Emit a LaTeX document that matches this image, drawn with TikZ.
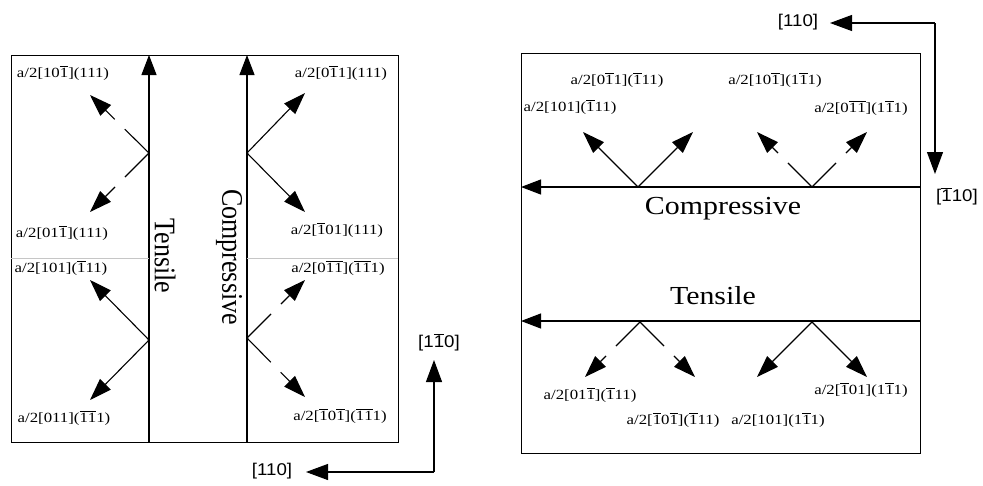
\documentclass[tikz,border=0pt]{standalone}
\usepackage{fontspec}
\setmainfont{Liberation Serif}
\newfontfamily\axisfont{Liberation Sans}
\usetikzlibrary{arrows.meta,positioning}
\newcommand{\bn}[1]{\ensuremath{\overline{\mbox{#1}}}}

\begin{document}
\begin{tikzpicture}[x=1pt,y=-1pt,line width=1.1pt,
  panel/.style={draw,line width=1.3pt,inner sep=0pt,anchor=north west},
  lbl/.style={font=\fontsize{14}{16}\selectfont,xscale=1.2,inner sep=0pt},
  axlbl/.style={font=\axisfont\fontsize{17}{19}\selectfont,xscale=1.1,inner sep=0pt},
  stress/.style={font=\fontsize{26}{30}\selectfont,xscale=1.15,inner sep=0pt},
  load/.style={-{Triangle[length=20pt,width=15pt]}},
  slip/.style={-{Triangle[length=22pt,width=15pt]}},
  dslip/.style={slip,dash pattern=on 34pt off 14pt},
  axarr/.style={-{Triangle[length=22pt,width=16pt]}},
  trace/.style={gray!45,line width=0.6pt}]
  \useasboundingbox (0,0) rectangle (983,485);

  % panel izquierdo
  \node[panel,minimum width=387pt,minimum height=387pt] (lbox) at (11,55) {};
  \coordinate (tbot) at (149,442); \coordinate (ttop) at (149,55);
  \coordinate (cbot) at (247,442); \coordinate (ctop) at (247,55);
  \draw[load] (tbot) -- (ttop);
  \draw[load] (cbot) -- (ctop);
  \coordinate (m1) at (11,258); \coordinate (m2) at (149,258);
  \coordinate (m3) at (247,258); \coordinate (m4) at (398,258);
  \draw[trace] (m1) -- (m2); \draw[trace] (m3) -- (m4);
  \node[stress,rotate=-90] (tens) at (165,256) {Tensile};
  \node[stress,rotate=-90] (comp) at (229,257) {Compressive};

  % sistemas de deslizamiento, lado traccion
  \coordinate (o1) at (149,153); \coordinate (t1a) at (90,95); \coordinate (t1b) at (90,212);
  \coordinate (o2) at (149,340); \coordinate (t2a) at (90,280); \coordinate (t2b) at (90,400);
  \draw[dslip] (o1) -- (t1a); \draw[dslip] (o1) -- (t1b);
  \draw[slip] (o2) -- (t2a); \draw[slip] (o2) -- (t2b);
  \node[lbl] (a1) at (63,73) {a/2[10\bn{1}](111)};
  \node[lbl] (a2) at (62,233) {a/2[01\bn{1}](111)};
  \node[lbl] (a3) at (61,268) {a/2[101](\bn{1}11)};
  \node[lbl] (a4) at (64,418) {a/2[011](\bn{1}\bn{1}1)};

  % sistemas de deslizamiento, lado compresion
  \coordinate (o3) at (247,153); \coordinate (t3a) at (305,93); \coordinate (t3b) at (305,212);
  \coordinate (o4) at (247,338); \coordinate (t4a) at (305,280); \coordinate (t4b) at (305,397);
  \draw[slip] (o3) -- (t3a); \draw[slip] (o3) -- (t3b);
  \draw[dslip] (o4) -- (t4a); \draw[dslip] (o4) -- (t4b);
  \node[lbl] (b1) at (341,73) {a/2[0\bn{1}1](111)};
  \node[lbl] (b2) at (337,230) {a/2[\bn{1}01](111)};
  \node[lbl] (b3) at (338,268) {a/2[0\bn{1}\bn{1}](\bn{1}\bn{1}1)};
  \node[lbl] (b4) at (340,416) {a/2[\bn{1}0\bn{1}](\bn{1}\bn{1}1)};

  % ejes izquierdos
  \coordinate (lc) at (434,472); \coordinate (lh) at (306,472); \coordinate (lv) at (434,360);
  \draw[axarr] (lc) -- (lh); \draw[axarr] (lc) -- (lv);
  \node[axlbl] (lx) at (272,471) {[110]};
  \node[axlbl] (ly) at (439,342) {[1\bn{1}0]};

  % panel derecho
  \node[panel,minimum width=399pt,minimum height=400pt] (rbox) at (521,53) {};
  \coordinate (cr) at (920,187); \coordinate (cl) at (521,187);
  \coordinate (tr) at (920,321); \coordinate (tl) at (521,321);
  \draw[load] (cr) -- (cl);
  \draw[load] (tr) -- (tl);
  \node[stress] (comp2) at (723,209) {Compressive};
  \node[stress] (tens2) at (713,296) {Tensile};

  % arriba: compresion
  \coordinate (o5) at (638,187); \coordinate (t5a) at (583,132); \coordinate (t5b) at (693,132);
  \coordinate (o6) at (812,187); \coordinate (t6a) at (757,132); \coordinate (t6b) at (867,132);
  \draw[slip] (o5) -- (t5a); \draw[slip] (o5) -- (t5b);
  \draw[dslip] (o6) -- (t6a); \draw[dslip] (o6) -- (t6b);
  \node[lbl] (c1) at (617,80) {a/2[0\bn{1}1](\bn{1}11)};
  \node[lbl] (c2) at (775,80) {a/2[10\bn{1}](1\bn{1}1)};
  \node[lbl,anchor=west] (c3) at (523,107) {a/2[101](\bn{1}11)};
  \node[lbl] (c4) at (861,108) {a/2[0\bn{1}\bn{1}](1\bn{1}1)};

  % abajo: traccion
  \coordinate (o7) at (640,322); \coordinate (t7a) at (585,377); \coordinate (t7b) at (695,377);
  \coordinate (o8) at (812,322); \coordinate (t8a) at (757,377); \coordinate (t8b) at (867,377);
  \draw[dslip] (o7) -- (t7a); \draw[dslip] (o7) -- (t7b);
  \draw[slip] (o8) -- (t8a); \draw[slip] (o8) -- (t8b);
  \node[lbl] (d1) at (590,395) {a/2[01\bn{1}](\bn{1}11)};
  \node[lbl] (d2) at (673,420) {a/2[\bn{1}0\bn{1}](\bn{1}11)};
  \node[lbl] (d3) at (778,420) {a/2[101](1\bn{1}1)};
  \node[lbl] (d4) at (861,390) {a/2[\bn{1}01](1\bn{1}1)};

  % ejes derechos
  \coordinate (rc) at (935,23); \coordinate (rh) at (830,23); \coordinate (rv) at (935,174);
  \draw[axarr] (rc) -- (rh); \draw[axarr] (rc) -- (rv);
  \node[axlbl] (rx) at (798,22) {[110]};
  \node[axlbl] (ry) at (957,196) {[\bn{1}10]};
\end{tikzpicture}
\end{document}
